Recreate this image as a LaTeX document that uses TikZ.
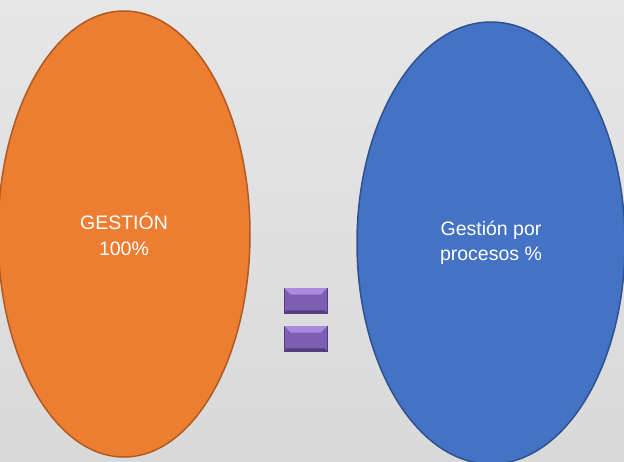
\documentclass[tikz,border=0pt]{standalone}
\usepackage{fontspec}
\setmainfont{Liberation Sans}
\usepackage{xcolor}
\usepackage{tikz}
\usetikzlibrary{shapes,calc}

\definecolor{orangefill}{RGB}{237,125,49}
\definecolor{orangeline}{RGB}{174,90,33}
\definecolor{bluefill}{RGB}{68,114,196}
\definecolor{blueline}{RGB}{47,82,143}
\definecolor{barfill}{RGB}{124,94,178}
\definecolor{barlight}{RGB}{168,138,222}
\definecolor{bardark}{RGB}{84,60,128}
\definecolor{bgtop}{RGB}{230,230,230}
\definecolor{bgbottom}{RGB}{217,217,217}

\begin{document}
\begin{tikzpicture}[
  x=1pt, y=-1pt,
  oval/.style={ellipse, inner sep=0pt, line width=1.5pt, align=center, text=white, font=\fontsize{19.5}{25.5}\selectfont},
  bar/.style={rectangle, inner sep=0pt, minimum width=43pt, minimum height=25pt, fill=barfill, draw=bardark, line width=0.6pt},
  bevel/.style={fill=barlight}
]

\useasboundingbox (0,0) rectangle (624,462);
\clip (0,0) rectangle (624,462);
\fill[top color=bgtop, bottom color=bgbottom] (0,0) rectangle (624,462);

\node[oval, fill=orangefill, draw=orangeline, minimum width=252pt, minimum height=446pt] (gestion) at (124,234) {GESTIÓN\\100\%};
\node[oval, fill=bluefill, draw=blueline, minimum width=268pt, minimum height=442pt] (procesos) at (491,243) {Gestión por\\procesos \%};

% equal sign
\node[bar] (eqtop) at (305.5,300.5) {};
\node[bar] (eqbot) at (305.5,338.5) {};
\foreach \b in {eqtop,eqbot} {
  \fill[bevel] ($(\b.north west)+(0.5,0.5)$) -- ($(\b.north east)+(-0.5,0.5)$) -- ($(\b.north east)+(-7,7)$) -- ($(\b.north west)+(7,7)$) -- cycle;
  \fill[bardark] ($(\b.south west)+(0.5,-0.5)$) -- ($(\b.south east)+(-0.5,-0.5)$) -- ($(\b.south east)+(-3,-3)$) -- ($(\b.south west)+(3,-3)$) -- cycle;
}

\end{tikzpicture}
\end{document}
